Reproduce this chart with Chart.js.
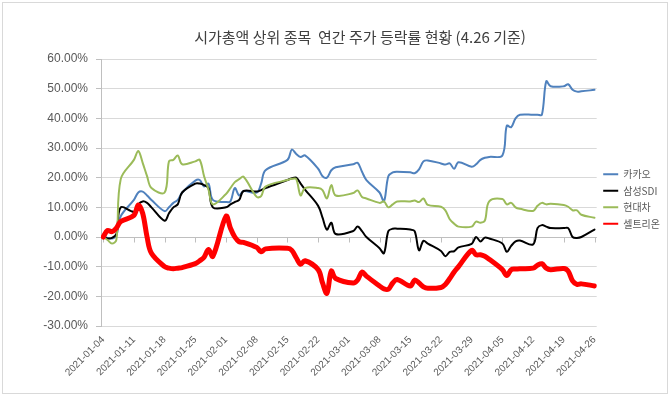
<!DOCTYPE html>
<html lang="ko">
<head>
<meta charset="UTF-8">
<title>시가총액 상위 종목 연간 주가 등락률 현황</title>
<script src="https://cdn.jsdelivr.net/npm/chart.js@4.4.0/dist/chart.umd.min.js"></script>
<style>
    html, body {margin:0; padding:0; background:#fff;}
    #wrap {width:670px; height:397px;}
</style>
</head>
<body>
<div id="wrap"><canvas id="rateChart" width="670" height="397"></canvas></div>
<script>
    // trading days (KRX, 2021) and cumulative change vs 2021-01-04, in %
    const tradingDays = [
        '2021-01-04','2021-01-05','2021-01-06','2021-01-07','2021-01-08',
        '2021-01-11','2021-01-12','2021-01-13','2021-01-14','2021-01-15',
        '2021-01-18','2021-01-19','2021-01-20','2021-01-21','2021-01-22',
        '2021-01-25','2021-01-26','2021-01-27','2021-01-28','2021-01-29',
        '2021-02-01','2021-02-02','2021-02-03','2021-02-04','2021-02-05',
        '2021-02-08','2021-02-09','2021-02-10',
        '2021-02-15','2021-02-16','2021-02-17','2021-02-18','2021-02-19',
        '2021-02-22','2021-02-23','2021-02-24','2021-02-25','2021-02-26',
        '2021-03-02','2021-03-03','2021-03-04','2021-03-05',
        '2021-03-08','2021-03-09','2021-03-10','2021-03-11','2021-03-12',
        '2021-03-15','2021-03-16','2021-03-17','2021-03-18','2021-03-19',
        '2021-03-22','2021-03-23','2021-03-24','2021-03-25','2021-03-26',
        '2021-03-29','2021-03-30','2021-03-31','2021-04-01','2021-04-02',
        '2021-04-05','2021-04-06','2021-04-07','2021-04-08','2021-04-09',
        '2021-04-12','2021-04-13','2021-04-14','2021-04-15','2021-04-16',
        '2021-04-19','2021-04-20','2021-04-21','2021-04-22','2021-04-23',
        '2021-04-26'
    ];
    const kakao = [
        0.0, -0.3, -0.5, 0.5, 7.0,
        12.5, 15.0, 15.3, 14.0, 12.5,
        8.7, 10.0, 11.5, 12.5, 15.0,
        19.0, 19.2, 17.0, 18.0, 12.5,
        11.8, 12.0, 16.5, 14.0, 15.5,
        15.0, 18.0, 22.5,
        26.0, 29.5, 28.0, 27.0, 27.5,
        23.0, 20.5, 20.0, 22.5, 23.5,
        24.5, 25.0, 22.0, 19.2,
        15.0, 12.0, 20.5, 21.8, 22.0,
        21.8, 21.5, 22.8, 25.5, 25.8,
        24.8, 24.4, 24.8, 23.0, 25.2,
        23.7, 24.5, 26.0, 26.7, 27.0,
        27.5, 37.5, 37.0, 40.0, 41.2,
        41.2, 41.2, 41.2, 52.5, 50.8,
        50.8, 51.5, 49.6, 49.0, 49.1,
        49.6
    ];
    const samsungSdi = [
        0.0, -0.5, -0.3, 1.0, 10.0,
        8.5, 11.0, 12.0, 11.5, 10.0,
        5.5, 8.0, 10.0, 11.0, 15.0,
        18.0, 18.0, 17.5, 16.5, 10.0,
        10.0, 11.0, 11.8, 12.5, 15.5,
        15.3, 15.8, 16.5,
        19.2, 19.8, 20.0, 18.0, 16.0,
        10.5, 6.5, 2.5, 4.8, 1.0,
        2.0, 3.5, 2.0, 0.0,
        -3.8, -5.5, 2.0, 2.8, 2.8,
        2.5, 2.0, -4.5, -1.3, -2.2,
        -4.7, -6.5, -5.0, -4.8, -3.5,
        -2.3, 0.0, -1.5, -0.2, -0.5,
        -2.2, -5.0, -3.0, -1.5, -1.2,
        -2.5, 3.0, 4.0, 3.5, 3.0,
        3.0, 3.0, 0.0, -0.3, 0.0,
        2.5
    ];
    const hyundai = [
        0.0, -1.0, -2.2, -1.0, 19.5,
        26.0, 29.0, 25.0, 20.5, 16.5,
        15.0, 25.5, 26.0, 27.5, 24.5,
        25.5, 26.0, 20.5, 16.0, 11.0,
        14.5, 16.5, 18.5, 19.5, 20.3,
        13.5, 13.8, 17.0,
        19.2, 19.6, 19.5, 14.0, 16.5,
        16.5, 15.8, 13.0, 17.5, 14.0,
        14.8, 15.7, 13.5, 13.0,
        11.5, 12.0, 10.0, 11.0, 12.0,
        12.0, 12.3, 11.8, 13.0, 10.8,
        10.2, 9.0, 6.0, 4.5, 3.5,
        3.5, 5.2, 4.8, 5.5, 12.0,
        12.8, 11.0, 11.5, 10.0, 9.5,
        8.8, 10.5, 11.5, 11.0, 11.2,
        10.8, 10.2, 9.0, 9.0, 7.5,
        6.5
    ];
    const celltrion = [
        0.0, 2.2, 1.8, 3.0, 5.2,
        7.3, 10.8, 8.0, 0.0, -5.5,
        -10.0, -10.5, -10.7, -10.5, -10.3,
        -9.0, -8.0, -6.8, -4.2, -6.5,
        7.0, 3.0, 0.0, -1.6, -1.8,
        -3.5, -5.0, -4.0,
        -3.8, -4.5, -7.0, -9.2, -8.0,
        -11.0, -15.5, -19.0, -11.5, -14.0,
        -15.5, -14.5, -11.8, -13.2,
        -16.5, -17.5, -17.6, -15.5, -14.3,
        -16.5, -14.5, -15.5, -16.8, -17.3,
        -17.0, -16.0, -14.0, -11.8, -10.0,
        -4.5, -6.0, -6.0, -6.5, -7.5,
        -11.0, -13.0, -11.0, -10.8, -10.7,
        -10.5, -9.5, -9.0, -10.5, -11.0,
        -10.6, -11.5, -14.8, -16.0, -15.8,
        -16.5
    ];
    const tickLabels = [
        '2021-01-04','2021-01-11','2021-01-18','2021-01-25','2021-02-01','2021-02-08',
        '2021-02-15','2021-02-22','2021-03-01','2021-03-08','2021-03-15','2021-03-22',
        '2021-03-29','2021-04-05','2021-04-12','2021-04-19','2021-04-26'
    ];

    const baseDay = Date.UTC(2021, 0, 4);
    function dayOffset(s) {
        const p = s.split('-');
        return Math.round((Date.UTC(+p[0], p[1] - 1, +p[2]) - baseDay) / 86400000);
    }
    function points(values) {
        return values.map((v, i) => ({x: dayOffset(tradingDays[i]), y: v}));
    }

    const numFont = '"Liberation Sans", Arial, sans-serif';
    const korFont = '"Noto Sans CJK KR", "Noto Sans", sans-serif';
    const textColor = '#595959';

    // white background, outer frame and the title
    const frame = {
        id: 'frame',
        beforeDraw(chart) {
            const ctx = chart.ctx;
            ctx.save();
            ctx.fillStyle = '#fff';
            ctx.fillRect(0, 0, chart.width, chart.height);
            ctx.strokeStyle = '#d9d9d9';
            ctx.lineWidth = 1;
            ctx.strokeRect(2.5, 2.5, chart.width - 5, chart.height - 6);
            ctx.restore();
        },
        afterDraw(chart) {
            const ctx = chart.ctx;
            ctx.save();
            ctx.fillStyle = '#404040';
            ctx.font = '15px ' + korFont;
            ctx.textAlign = 'center';
            ctx.textBaseline = 'middle';
            ctx.fillText('시가총액 상위 종목  연간 주가 등락률 현황 (4.26 기준)', 360, 37);
            ctx.restore();
        }
    };

    // category axis drawn across the 0% line, with small tick marks
    const zeroAxis = {
        id: 'zeroAxis',
        beforeDatasetsDraw(chart) {
            const {ctx, chartArea, scales: {x, y}} = chart;
            const y0 = Math.round(y.getPixelForValue(0)) + 0.5;
            ctx.save();
            ctx.strokeStyle = '#bfbfbf';
            ctx.lineWidth = 1;
            ctx.beginPath();
            ctx.moveTo(chartArea.left, y0);
            ctx.lineTo(chartArea.right, y0);
            x.ticks.forEach(t => {
                const px = Math.round(x.getPixelForValue(t.value)) + 0.5;
                ctx.moveTo(px, y0);
                ctx.lineTo(px, y0 + 5);
            });
            ctx.stroke();
            ctx.restore();
        }
    };

    const series = [
        {label: '카카오', data: kakao, color: '#4f81bd', width: 2, order: 4},
        {label: '삼성SDI', data: samsungSdi, color: '#000000', width: 2, order: 3},
        {label: '현대차', data: hyundai, color: '#9bbb59', width: 2, order: 2},
        {label: '셀트리온', data: celltrion, color: '#ff0000', width: 5, order: 1}
    ];

    const ctx = document.getElementById('rateChart');
    const rateChart = new Chart(ctx, {
        type: 'line',
        data: {
            datasets: series.map(s => ({
                label: s.label,
                data: points(s.data),
                borderColor: s.color,
                backgroundColor: s.color,
                borderWidth: s.width,
                borderCapStyle: 'round',
                borderJoinStyle: 'round',
                pointRadius: 0,
                tension: 0.35,
                order: s.order
            }))
        },
        options: {
            responsive: false,
            animation: false,
            layout: {padding: {top: 59, right: 0, bottom: 5, left: 0}},
            plugins: {
                title: {display: false},
                tooltip: {enabled: false},
                legend: {
                    position: 'right',
                    fullSize: false,
                    title: {display: true, text: ' ', padding: {top: 12, bottom: 0}, font: {size: 1, lineHeight: 1}},
                    labels: {
                        boxWidth: 15,
                        boxHeight: 2,
                        padding: 6.5,
                        color: textColor,
                        font: {family: korFont, size: 10},
                        sort: (a, b) => a.datasetIndex - b.datasetIndex,
                        generateLabels(chart) {
                            return Chart.defaults.plugins.legend.labels.generateLabels(chart).map(item => {
                                item.fillStyle = item.strokeStyle;
                                item.lineWidth = 0;
                                return item;
                            });
                        }
                    }
                }
            },
            scales: {
                x: {
                    type: 'linear',
                    min: -0.5,
                    max: 112.5,
                    afterBuildTicks: scale => {
                        scale.ticks = tickLabels.map(s => ({value: dayOffset(s)}));
                    },
                    afterFit: scale => { scale.height = 66; },
                    grid: {display: false, drawTicks: false},
                    border: {display: false},
                    ticks: {
                        autoSkip: false,
                        minRotation: 45,
                        maxRotation: 45,
                        padding: 8,
                        color: textColor,
                        font: {family: numFont, size: 10},
                        callback: v => {
                            const hit = tickLabels.find(s => dayOffset(s) === v);
                            return hit || '';
                        }
                    }
                },
                y: {
                    min: -30,
                    max: 60,
                    afterFit: scale => { scale.width = 101; },
                    grid: {color: '#d9d9d9', tickLength: 5, tickColor: '#bfbfbf'},
                    border: {color: '#bfbfbf'},
                    ticks: {
                        stepSize: 10,
                        padding: 8,
                        color: textColor,
                        font: {family: numFont, size: 12},
                        callback: v => v.toFixed(2) + '%'
                    }
                }
            }
        },
        plugins: [frame, zeroAxis]
    });
</script>
</body>
</html>
